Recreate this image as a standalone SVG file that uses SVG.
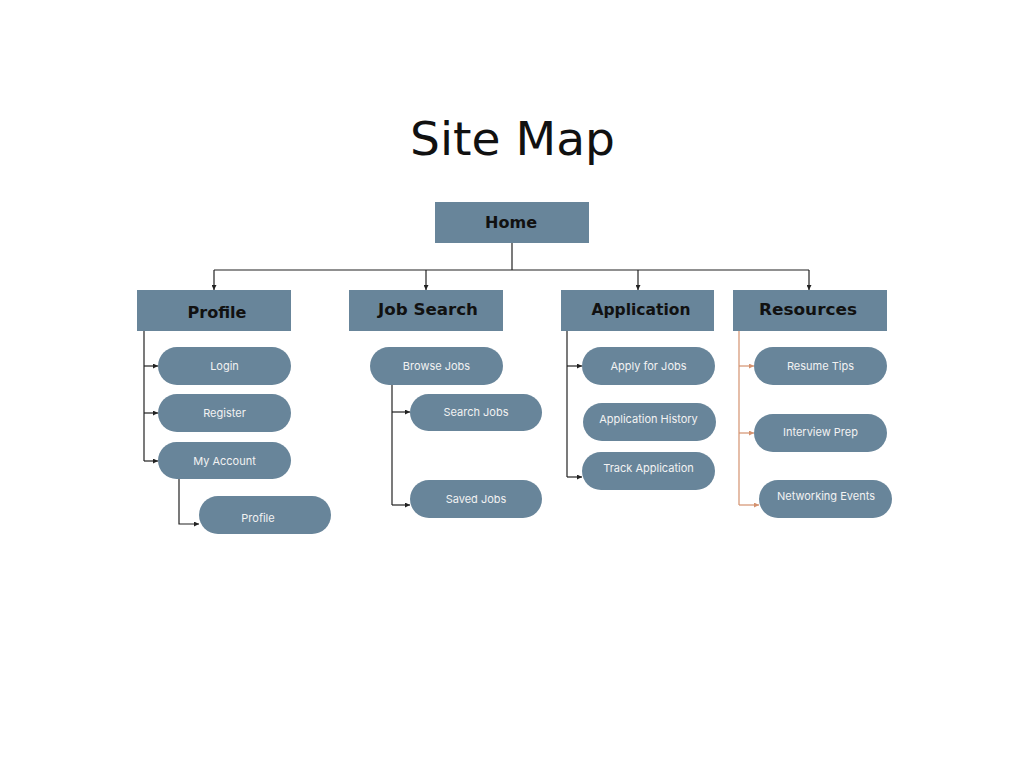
<svg xmlns="http://www.w3.org/2000/svg" width="1024" height="768" viewBox="0 0 1024 768">
<style>
.box{fill:#68859a}
.pill{fill:#68859a}
.title{font-family:"DejaVu Sans",sans-serif;font-size:47px;fill:#111}
.head{font-family:"DejaVu Sans",sans-serif;font-weight:bold;font-size:16px;fill:#111;text-anchor:middle}
.lbl{font-family:Inter,"Noto Sans",sans-serif;font-size:11px;fill:#f2f2f2;text-anchor:middle}
.ln{fill:none;stroke:#222;stroke-width:1.2}
.lo{fill:none;stroke:#d4926f;stroke-width:1.2}
</style>
<defs>
<marker id="ah" viewBox="0 0 6 6" refX="6" refY="3" markerWidth="5" markerHeight="5" orient="auto" markerUnits="userSpaceOnUse"><path d="M0,0 L6,3 L0,6 Z" fill="#222"/></marker>
<marker id="ao" viewBox="0 0 6 6" refX="6" refY="3" markerWidth="5" markerHeight="5" orient="auto" markerUnits="userSpaceOnUse"><path d="M0,0 L6,3 L0,6 Z" fill="#d4926f"/></marker>
</defs>
<rect width="1024" height="768" fill="#fff"/>
<text class="title" x="410" y="155" textLength="205" lengthAdjust="spacingAndGlyphs">Site Map</text>

<g id="connectors">
<path class="ln" d="M512,243 V270"/>
<path class="ln" d="M214,270 H809"/>
<path class="ln" d="M214,270 V290" marker-end="url(#ah)"/>
<path class="ln" d="M426,270 V290" marker-end="url(#ah)"/>
<path class="ln" d="M638,270 V290" marker-end="url(#ah)"/>
<path class="ln" d="M809,270 V290" marker-end="url(#ah)"/>
<path class="ln" d="M144,331 V461"/>
<path class="ln" d="M144,366 H158" marker-end="url(#ah)"/>
<path class="ln" d="M144,413 H158" marker-end="url(#ah)"/>
<path class="ln" d="M144,461 H158" marker-end="url(#ah)"/>
<path class="ln" d="M179,479 V524 H199" marker-end="url(#ah)"/>
<path class="ln" d="M392,385 V505"/>
<path class="ln" d="M392,412 H410" marker-end="url(#ah)"/>
<path class="ln" d="M392,505 H410" marker-end="url(#ah)"/>
<path class="ln" d="M567,331 V477"/>
<path class="ln" d="M567,366 H582" marker-end="url(#ah)"/>
<path class="ln" d="M567,477 H582" marker-end="url(#ah)"/>
<path class="lo" d="M739,331 V505"/>
<path class="lo" d="M739,366 H754" marker-end="url(#ao)"/>
<path class="lo" d="M739,433 H754" marker-end="url(#ao)"/>
<path class="lo" d="M739,505 H759" marker-end="url(#ao)"/>
</g>

<g id="home"><rect class="box" x="435" y="202" width="154" height="41"/><text class="head" x="511" y="228" textLength="52" lengthAdjust="spacingAndGlyphs">Home</text></g>
<g id="profile"><rect class="box" x="137" y="290" width="154" height="41"/><text class="head" x="217" y="318" textLength="59" lengthAdjust="spacingAndGlyphs">Profile</text></g>
<g id="job-search"><rect class="box" x="349" y="290" width="154" height="41"/><text class="head" x="428" y="315" textLength="100" lengthAdjust="spacingAndGlyphs">Job Search</text></g>
<g id="application"><rect class="box" x="561" y="290" width="153" height="41"/><text class="head" x="641" y="315" textLength="99" lengthAdjust="spacingAndGlyphs">Application</text></g>
<g id="resources"><rect class="box" x="733" y="290" width="154" height="41"/><text class="head" x="808" y="315" textLength="98" lengthAdjust="spacingAndGlyphs">Resources</text></g>

<g id="login"><rect class="pill" x="158" y="347" width="133" height="38" rx="19"/><text class="lbl" x="224.5" y="370">Login</text></g>
<g id="register"><rect class="pill" x="158" y="394" width="133" height="38" rx="19"/><text class="lbl" x="224.5" y="417">Register</text></g>
<g id="my-account"><rect class="pill" x="158" y="442" width="133" height="37" rx="18.5"/><text class="lbl" x="224.5" y="465">My Account</text></g>
<g id="profile-sub"><rect class="pill" x="199" y="496" width="132" height="38" rx="19"/><text class="lbl" x="258" y="522">Profile</text></g>

<g id="browse-jobs"><rect class="pill" x="370" y="347" width="133" height="38" rx="19"/><text class="lbl" x="436.5" y="370">Browse Jobs</text></g>
<g id="search-jobs"><rect class="pill" x="410" y="394" width="132" height="37" rx="18.5"/><text class="lbl" x="476" y="416">Search Jobs</text></g>
<g id="saved-jobs"><rect class="pill" x="410" y="480" width="132" height="38" rx="19"/><text class="lbl" x="476" y="503">Saved Jobs</text></g>

<g id="apply-for-jobs"><rect class="pill" x="582" y="347" width="133" height="38" rx="19"/><text class="lbl" x="648.5" y="370">Apply for Jobs</text></g>
<g id="application-history"><rect class="pill" x="583" y="403" width="133" height="38" rx="19"/><text class="lbl" x="648.5" y="423">Application History</text></g>
<g id="track-application"><rect class="pill" x="582" y="452" width="133" height="38" rx="19"/><text class="lbl" x="648.5" y="472">Track Application</text></g>

<g id="resume-tips"><rect class="pill" x="754" y="347" width="133" height="38" rx="19"/><text class="lbl" x="820.5" y="370">Resume Tips</text></g>
<g id="interview-prep"><rect class="pill" x="754" y="414" width="133" height="38" rx="19"/><text class="lbl" x="820.5" y="436">Interview Prep</text></g>
<g id="networking-events"><rect class="pill" x="759" y="480" width="133" height="38" rx="19"/><text class="lbl" x="826" y="500">Networking Events</text></g>
</svg>
